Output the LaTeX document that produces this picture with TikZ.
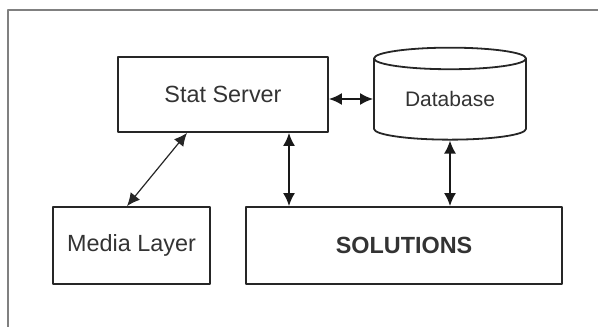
\documentclass[tikz,border=0pt]{standalone}
\usepackage{fontspec}
\setmainfont{Liberation Sans}
\usetikzlibrary{arrows.meta,positioning,shapes.geometric}

\begin{document}
\begin{tikzpicture}[x=0.5pt,y=-0.5pt,line cap=round,line join=round,>={Latex[length=6.5pt,width=6pt]},
  box/.style={draw=black!85,line width=0.9pt,inner sep=0pt,text=black!80,font=\fontsize{11.7}{14}\selectfont},
  dbase/.style={box,cylinder,shape border rotate=90,aspect=0.24,font=\fontsize{10.5}{12.6}\selectfont},
  link/.style={<->,draw=black!90,line width=0.9pt},
  thinlink/.style={<->,draw=black!85,line width=0.6pt}]
\useasboundingbox (0,0) rectangle (598,326);
% outer frame (runs off the right and bottom edges)
\draw [line width=1.25pt,color=black!50] (8,340) -- (8,10) -- (612,10);
% boxes
\node[box,minimum width=105pt,minimum height=37.5pt] (ss) at (223,94.5) {Stat Server};
\node[dbase,minimum width=76pt,minimum height=46pt] (db) at (450,99.5) {\raisebox{-3.5pt}[0pt][0pt]{Database}};
\node[box,minimum width=78.5pt,minimum height=38.5pt] (ml) at (131.5,245.5) {Media Layer};
\node[box,minimum width=158pt,minimum height=38.5pt,font=\bfseries\fontsize{11.7}{14}\selectfont] (sol) at (404,245.5) {SOLUTIONS};
% connectors
\draw[link] ([yshift=-2.25pt]ss.east) -- ([yshift=-2.25pt]ss.east -| db.west);
\draw[thinlink] ([xshift=-2.25pt]ml.north) -- ([xshift=-18pt]ss.south);
\draw[link] ([xshift=33pt]ss.south) -- ([xshift=33pt]ss.south |- sol.north);
\draw[link] (db.south) -- (db.south |- sol.north);
\end{tikzpicture}
\end{document}
